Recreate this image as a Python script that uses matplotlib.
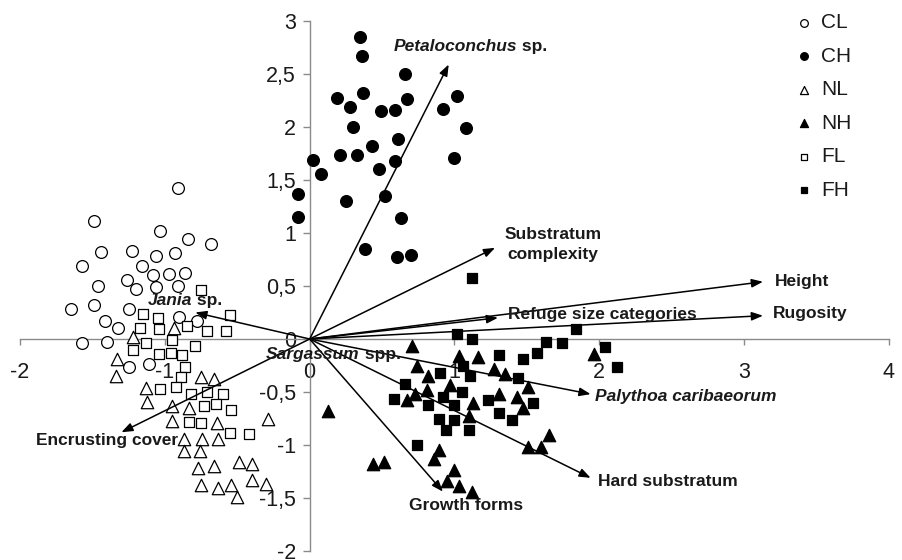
import numpy as np
import matplotlib
matplotlib.use('Agg')
import matplotlib.pyplot as plt

plt.rcParams['font.family'] = ['Liberation Sans', 'DejaVu Sans']

# site scores
cl_x = [-0.91, -1.49, -1.03, -0.84, -0.68, -1.44, -1.23, -1.06, -0.93, -1.57, -1.16, -1.08, -0.97, -0.86, -1.46,
        -1.26, -1.20, -1.06, -0.91, -1.65, -1.49, -1.25, -0.90, -0.78, -1.41, -1.32, -1.57, -1.40, -1.25, -1.11]
cl_y = [1.42, 1.11, 1.02, 0.94, 0.90, 0.82, 0.83, 0.78, 0.81, 0.69, 0.69, 0.60, 0.61, 0.62, 0.50,
        0.56, 0.47, 0.49, 0.50, 0.28, 0.32, 0.28, 0.21, 0.17, 0.17, 0.10, -0.04, -0.03, -0.26, -0.24]

ch_x = [0.35, 0.36, 0.66, 0.19, 0.28, 0.37, 0.49, 0.59, 0.67, 0.92, 1.02, 0.30, 1.08, 0.61, 0.43,
        0.21, 0.33, 0.59, 0.48, 1.00, 0.02, 0.08, -0.08, -0.08, 0.25, 0.52, 0.63, 0.38, 0.60, 0.70]
ch_y = [2.85, 2.67, 2.50, 2.27, 2.19, 2.32, 2.15, 2.16, 2.26, 2.17, 2.29, 2.00, 1.99, 1.89, 1.82,
        1.74, 1.74, 1.68, 1.60, 1.71, 1.69, 1.56, 1.37, 1.15, 1.30, 1.35, 1.14, 0.85, 0.77, 0.79]

nl_x = [-1.22, -0.94, -1.33, -1.34, -1.13, -0.75, -0.66, -1.12, -0.95, -0.83, -0.95, -0.64, -0.29, -0.87,
        -0.74, -0.63, -0.87, -0.76, -0.77, -0.66, -0.49, -0.40, -0.75, -0.63, -0.54, -0.40, -0.30, -0.50]
nl_y = [0.02, 0.10, -0.19, -0.35, -0.46, -0.36, -0.38, -0.59, -0.63, -0.65, -0.77, -0.79, -0.75, -0.94,
        -0.94, -0.94, -1.06, -1.06, -1.22, -1.20, -1.16, -1.18, -1.38, -1.41, -1.38, -1.33, -1.37, -1.49]

nh_x = [0.71, 0.74, 0.82, 1.03, 1.16, 0.97, 0.81, 0.73, 0.67, 1.27, 1.35, 1.31, 1.43, 1.51, 1.13,
        1.10, 1.47, 0.13, 0.44, 0.51, 0.89, 0.86, 1.00, 0.95, 1.03, 1.12, 1.51, 1.60, 1.65, 1.96]
nh_y = [-0.07, -0.25, -0.35, -0.16, -0.17, -0.43, -0.48, -0.52, -0.58, -0.28, -0.33, -0.52, -0.55, -0.45, -0.60,
        -0.73, -0.65, -0.68, -1.18, -1.16, -1.05, -1.13, -1.24, -1.34, -1.39, -1.44, -1.02, -1.02, -0.91, -0.14]

fl_x = [-0.75, -1.15, -1.05, -0.55, -1.17, -1.04, -0.85, -0.71, -0.58, -0.95, -1.22, -1.13, -0.79, -1.04, -0.96,
        -0.88, -0.86, -0.89, -1.03, -0.92, -0.82, -0.71, -0.60, -0.73, -0.65, -0.54, -0.83, -0.75, -0.55, -0.42]
fl_y = [0.46, 0.24, 0.20, 0.23, 0.10, 0.09, 0.12, 0.08, 0.08, -0.01, -0.10, -0.04, -0.07, -0.14, -0.13,
        -0.15, -0.26, -0.36, -0.47, -0.45, -0.52, -0.50, -0.52, -0.63, -0.61, -0.67, -0.78, -0.79, -0.89, -0.90]

fh_x = [1.12, 1.02, 1.12, 1.63, 1.74, 1.84, 2.04, 2.12, 1.31, 1.47, 1.57, 1.06, 1.11, 0.90, 0.66,
        1.44, 1.05, 0.92, 0.58, 0.82, 1.00, 1.23, 1.54, 1.31, 0.89, 1.00, 1.40, 0.94, 1.10, 0.74]
fh_y = [0.58, 0.05, 0.00, -0.03, -0.04, 0.09, -0.08, -0.26, -0.15, -0.19, -0.13, -0.25, -0.35, -0.32, -0.42,
        -0.37, -0.50, -0.55, -0.57, -0.62, -0.62, -0.58, -0.60, -0.70, -0.75, -0.76, -0.76, -0.86, -0.86, -1.00]

# environmental vectors (arrow tips)
vec_names = ['Petaloconchus', 'Substratum\ncomplexity', 'Height', 'Rugosity', 'Refuge size categories',
             'Jania', 'Encrusting cover', 'Palythoa caribaeorum', 'Hard substratum', 'Growth forms']
vec_x = [0.96, 1.28, 3.13, 3.13, 1.30, -0.79, -1.30, 1.94, 1.94, 0.92]
vec_y = [2.59, 0.86, 0.54, 0.22, 0.20, 0.25, -0.88, -0.52, -1.31, -1.44]

y_ticks = [-2, -1.5, -1, -0.5, 0, 0.5, 1, 1.5, 2, 2.5, 3]
y_tick_labels = ['-2', '-1,5', '-1', '-0,5', '0', '0,5', '1', '1,5', '2', '2,5', '3']
x_ticks = [-2, -1, 0, 1, 2, 3, 4]

fig = plt.figure(figsize=(9.03, 5.6), dpi=100)
ax = fig.add_axes([20 / 903, 9 / 560, 869 / 903, 530 / 560])
ax.set_xlim(-2, 4)
ax.set_ylim(-2, 3)

grey = '#8a8a8a'
txt = '#1a1a1a'
for side in ['top', 'right']:
    ax.spines[side].set_visible(False)
for side in ['left', 'bottom']:
    ax.spines[side].set_position(('data', 0))
    ax.spines[side].set_color(grey)
    ax.spines[side].set_linewidth(1.0)

ax.set_xticks(x_ticks)
ax.set_xticklabels([str(v) for v in x_ticks])
ax.set_yticks(y_ticks)
ax.set_yticklabels(y_tick_labels)
ax.tick_params(axis='x', direction='out', length=4.5, width=1, color=grey, pad=12, labelsize=15.5, labelcolor=txt)
ax.tick_params(axis='y', direction='out', length=5, width=1, color=grey, pad=5, labelsize=15.5, labelcolor=txt)

mk = dict(edgecolors='black', linewidths=0.9, zorder=4)
h_cl = ax.scatter(cl_x, cl_y, marker='o', s=72, facecolors='white', label='CL', **mk)
h_ch = ax.scatter(ch_x, ch_y, marker='o', s=72, facecolors='black', label='CH', **mk)
h_nl = ax.scatter(nl_x, nl_y, marker='^', s=80, facecolors='white', label='NL', **mk)
h_nh = ax.scatter(nh_x, nh_y, marker='^', s=80, facecolors='black', label='NH', **mk)
h_fl = ax.scatter(fl_x, fl_y, marker='s', s=60, facecolors='white', label='FL', **mk)
h_fh = ax.scatter(fh_x, fh_y, marker='s', s=60, facecolors='black', label='FH', **mk)

for vx, vy in zip(vec_x, vec_y):
    ax.annotate('', xy=(vx, vy), xytext=(0, 0),
                arrowprops=dict(arrowstyle='-|>,head_length=0.45,head_width=0.17', color='black',
                                lw=1.1, mutation_scale=15, shrinkA=0, shrinkB=0), zorder=5)

lab = dict(fontsize=12.5, fontweight='bold', color=txt, zorder=6)
t = ax.text(0.58, 2.76, 'Petaloconchus', style='italic', ha='left', va='center', **lab)
ax.annotate(' sp.', xy=(1, 0), xycoords=t, ha='left', va='bottom', **lab)
ax.text(1.68, 0.89, vec_names[1], ha='center', va='center', multialignment='center', linespacing=1.45, **lab)
ax.text(3.21, 0.54, vec_names[2], ha='left', va='center', **lab)
ax.text(3.20, 0.24, vec_names[3], ha='left', va='center', **lab)
ax.text(1.37, 0.23, vec_names[4], ha='left', va='center', **lab)
t = ax.text(-1.12, 0.36, 'Jania', style='italic', ha='left', va='center', **lab)
ax.annotate(' sp.', xy=(1, 0), xycoords=t, ha='left', va='bottom', **lab)
t = ax.text(-0.30, -0.15, 'Sargassum', style='italic', ha='left', va='center', **lab)
ax.annotate(' spp.', xy=(1, 0), xycoords=t, ha='left', va='bottom', **lab)
ax.text(-0.91, -0.96, vec_names[6], ha='right', va='center', **lab)
ax.text(1.97, -0.54, vec_names[7], style='italic', ha='left', va='center', **lab)
ax.text(1.99, -1.34, vec_names[8], ha='left', va='center', **lab)
ax.text(1.08, -1.57, vec_names[9], ha='center', va='center', **lab)

leg = ax.legend(handles=[h_cl, h_ch, h_nl, h_nh, h_fl, h_fh], loc='upper left',
                bbox_to_anchor=(794 / 903, 1 - 13 / 560), bbox_transform=fig.transFigure,
                frameon=False, fontsize=15, markerscale=0.65, handlelength=1.0, handletextpad=0.3,
                labelspacing=0.7, borderpad=0, borderaxespad=0)
for tx in leg.get_texts():
    tx.set_color(txt)

fig.savefig('out.png', dpi=100)
